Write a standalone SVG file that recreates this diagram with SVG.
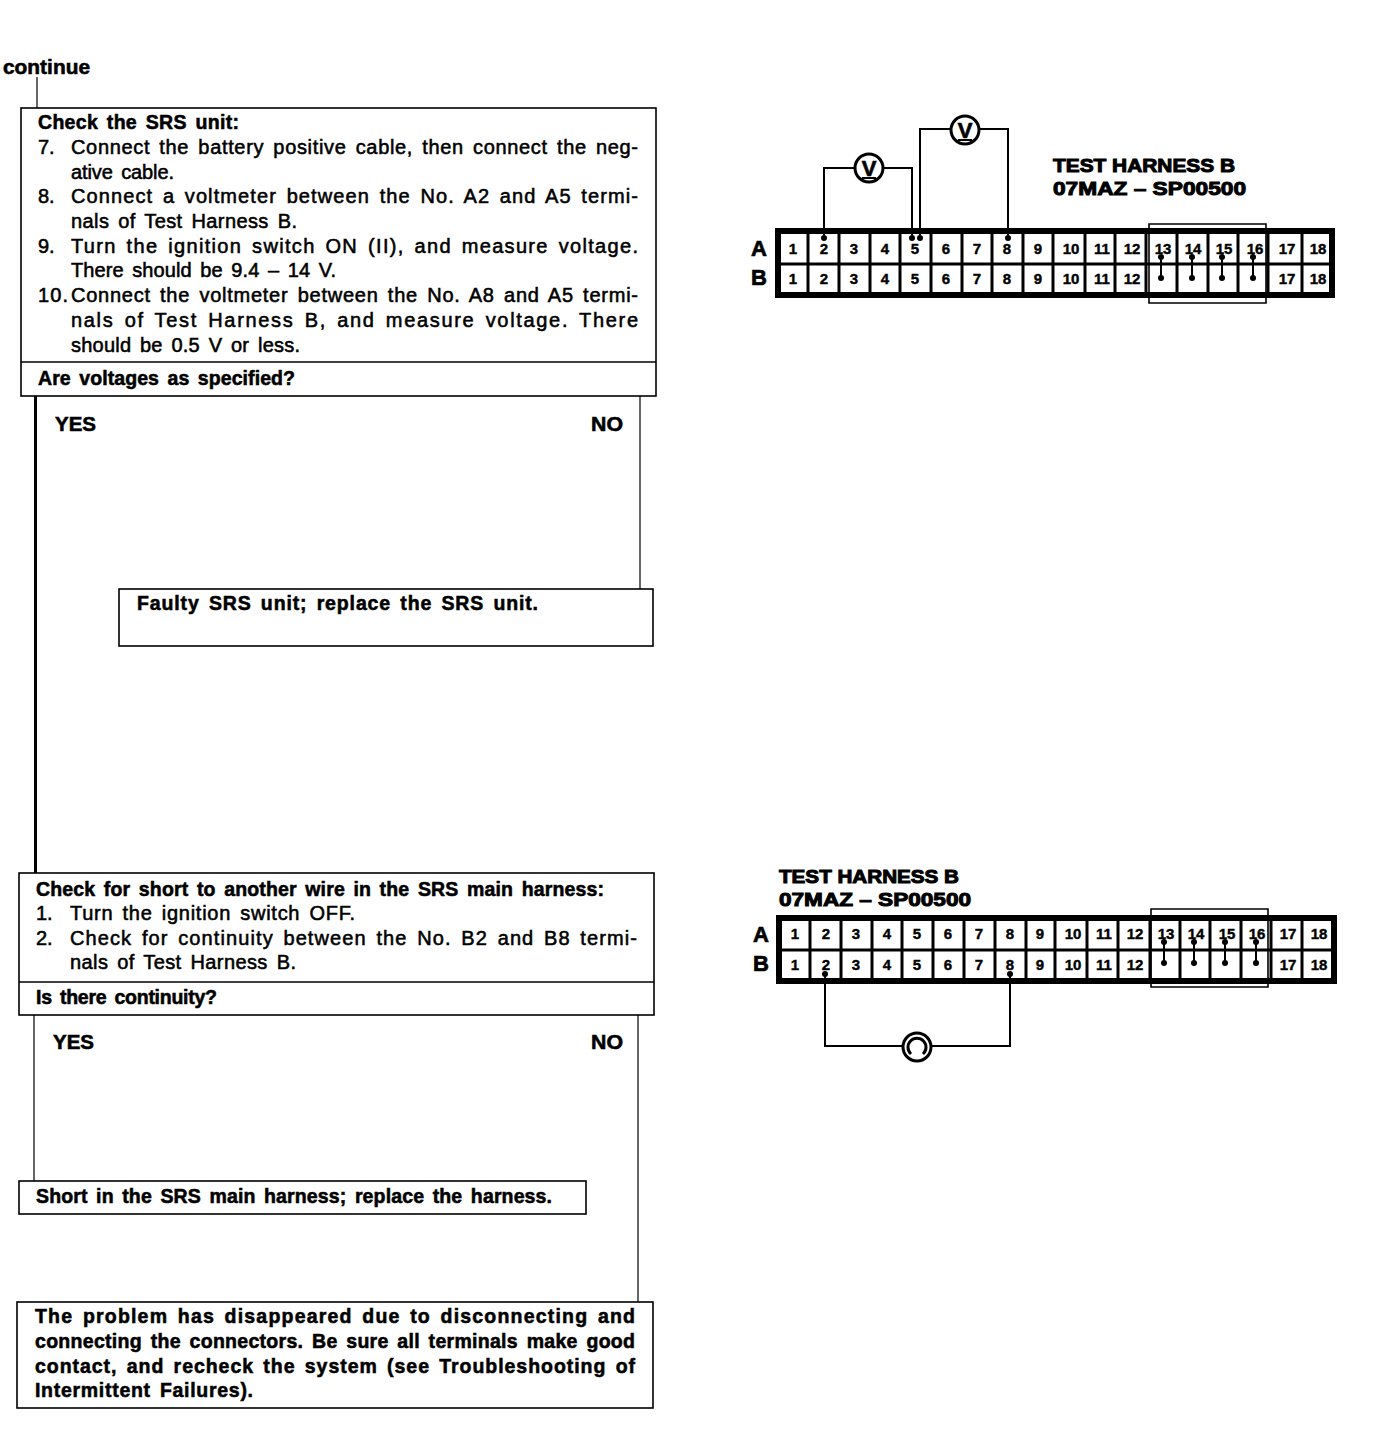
<svg xmlns="http://www.w3.org/2000/svg" width="1392" height="1436" viewBox="0 0 1392 1436">
<style>
text{font-family:"Liberation Sans",Arial,sans-serif;fill:#000}
.b{font-size:20px;stroke:#000;stroke-width:.55;word-spacing:3px}
.h{font-size:19.5px;font-weight:bold;stroke:#000;stroke-width:.55;word-spacing:3px}
.t{font-size:19px;font-weight:bold;stroke:#000;stroke-width:1}
.n{font-size:15px;font-weight:bold;text-anchor:middle;stroke:#000;stroke-width:.4}
.r{font-size:22px;font-weight:bold;text-anchor:middle;stroke:#000;stroke-width:.7}
.box{fill:none;stroke:#000;stroke-width:1.6}
.w{fill:none;stroke:#000;stroke-width:2}
.w3{fill:none;stroke:#000;stroke-width:3}
.w1{fill:none;stroke:#000;stroke-width:1.2}
.o{fill:none;stroke:#000;stroke-width:6}
.d{fill:none;stroke:#000;stroke-width:3}
.m{fill:#fff;stroke:#000;stroke-width:3}
.dot{fill:#000}
</style>

<g id="connectors">
<path class="w1" d="M37 77V108"/>
<path class="w3" d="M35.500 396V873"/>
<path class="w1" d="M640 396V589"/>
<path class="w1" d="M34 1015V1181"/>
<path class="w1" d="M638 1015V1302"/>
</g>

<g id="continue"><text class="h" x="3" y="74" textLength="87" lengthAdjust="spacingAndGlyphs">continue</text></g>

<g id="check-srs-unit">
<rect class="box" x="21" y="108" width="635" height="288"/>
<path class="box" d="M21 362H656"/>
<text class="h" x="38" y="129" textLength="201">Check the SRS unit:</text>
<text class="b" x="38" y="154">7.</text><text class="b" x="71" y="154" textLength="567">Connect the battery positive cable, then connect the neg-</text>
<text class="b" x="71" y="179" textLength="103">ative cable.</text>
<text class="b" x="38" y="203">8.</text><text class="b" x="71" y="203" textLength="567">Connect a voltmeter between the No. A2 and A5 termi-</text>
<text class="b" x="71" y="228" textLength="226">nals of Test Harness B.</text>
<text class="b" x="38" y="253">9.</text><text class="b" x="71" y="253" textLength="567">Turn the ignition switch ON (II), and measure voltage.</text>
<text class="b" x="71" y="277" textLength="265">There should be 9.4 – 14 V.</text>
<text class="b" x="38" y="302" textLength="30">10.</text><text class="b" x="71" y="302" textLength="567">Connect the voltmeter between the No. A8 and A5 termi-</text>
<text class="b" x="71" y="327" textLength="567">nals of Test Harness B, and measure voltage. There</text>
<text class="b" x="71" y="352" textLength="229">should be 0.5 V or less.</text>
<text class="h" x="38" y="385" textLength="257">Are voltages as specified?</text>
</g>

<g id="yes-no-1">
<text class="h" x="55" y="431" textLength="41" lengthAdjust="spacingAndGlyphs">YES</text>
<text class="h" x="591" y="431" textLength="32" lengthAdjust="spacingAndGlyphs">NO</text>
</g>

<g id="faulty-srs">
<rect class="box" x="119" y="589" width="534" height="57"/>
<text class="h" x="137" y="610" textLength="401">Faulty SRS unit; replace the SRS unit.</text>
</g>

<g id="check-short">
<rect class="box" x="19" y="873" width="635" height="142"/>
<path class="box" d="M19 982H654"/>
<text class="h" x="36" y="896" textLength="568">Check for short to another wire in the SRS main harness:</text>
<text class="b" x="36" y="920">1.</text><text class="b" x="70" y="920" textLength="285">Turn the ignition switch OFF.</text>
<text class="b" x="36" y="945">2.</text><text class="b" x="70" y="945" textLength="567">Check for continuity between the No. B2 and B8 termi-</text>
<text class="b" x="70" y="969" textLength="226">nals of Test Harness B.</text>
<text class="h" x="36" y="1004" textLength="181">Is there continuity?</text>
</g>

<g id="yes-no-2">
<text class="h" x="53" y="1049" textLength="41" lengthAdjust="spacingAndGlyphs">YES</text>
<text class="h" x="591" y="1049" textLength="32" lengthAdjust="spacingAndGlyphs">NO</text>
</g>

<g id="short-harness">
<rect class="box" x="19" y="1181" width="567" height="33"/>
<text class="h" x="36" y="1203" textLength="516">Short in the SRS main harness; replace the harness.</text>
</g>

<g id="disappeared">
<rect class="box" x="17" y="1302" width="636" height="106"/>
<text class="h" x="35" y="1323" textLength="600">The problem has disappeared due to disconnecting and</text>
<text class="h" x="35" y="1348" textLength="600">connecting the connectors. Be sure all terminals make good</text>
<text class="h" x="35" y="1373" textLength="600">contact, and recheck the system (see Troubleshooting of</text>
<text class="h" x="35" y="1397" textLength="218">Intermittent Failures).</text>
</g>

<g id="harness-top">
<text class="t" x="1053" y="172" textLength="182" lengthAdjust="spacingAndGlyphs">TEST HARNESS B</text>
<text class="t" x="1053" y="195" textLength="193" lengthAdjust="spacingAndGlyphs">07MAZ – SP00500</text>
<text class="r" x="759" y="256">A</text><text class="r" x="759" y="285">B</text>
<rect class="o" x="778" y="231" width="554" height="64"/>
<path class="d" d="M777 264H1332M808 231V296M839 231V296M870 231V296M900 231V296M931 231V296M962 231V296M992 231V296M1023 231V296M1053 231V296M1085 231V296M1115 231V296M1146 231V296M1177 231V296M1208 231V296M1238 231V296M1268 231V296M1302 231V296"/>
<path class="box" d="M1149 224H1266V303H1149Z"/>
<text class="n" x="793" y="254">1</text><text class="n" x="824" y="254">2</text><text class="n" x="854" y="254">3</text><text class="n" x="885" y="254">4</text><text class="n" x="915" y="254">5</text><text class="n" x="946" y="254">6</text><text class="n" x="977" y="254">7</text><text class="n" x="1007" y="254">8</text><text class="n" x="1038" y="254">9</text><text class="n" x="1071" y="254">10</text><text class="n" x="1102" y="254">11</text><text class="n" x="1132" y="254">12</text><text class="n" x="1163" y="254">13</text><text class="n" x="1193" y="254">14</text><text class="n" x="1224" y="254">15</text><text class="n" x="1255" y="254">16</text><text class="n" x="1287" y="254">17</text><text class="n" x="1318" y="254">18</text>
<text class="n" x="793" y="284">1</text><text class="n" x="824" y="284">2</text><text class="n" x="854" y="284">3</text><text class="n" x="885" y="284">4</text><text class="n" x="915" y="284">5</text><text class="n" x="946" y="284">6</text><text class="n" x="977" y="284">7</text><text class="n" x="1007" y="284">8</text><text class="n" x="1038" y="284">9</text><text class="n" x="1071" y="284">10</text><text class="n" x="1102" y="284">11</text><text class="n" x="1132" y="284">12</text><text class="n" x="1287" y="284">17</text><text class="n" x="1318" y="284">18</text>
<path class="w" d="M1161 256V279M1192 256V279M1222 256V279M1253 256V279"/>
<circle class="dot" cx="1161" cy="257" r="3"/><circle class="dot" cx="1192" cy="257" r="3"/><circle class="dot" cx="1222" cy="257" r="3"/><circle class="dot" cx="1253" cy="257" r="3"/>
<circle class="dot" cx="1161" cy="278" r="3"/><circle class="dot" cx="1192" cy="278" r="3"/><circle class="dot" cx="1222" cy="278" r="3"/><circle class="dot" cx="1253" cy="278" r="3"/>
<path class="w" d="M824 238V168H912V238M920 238V129H1008V238"/>
<circle class="dot" cx="824" cy="238" r="3"/><circle class="dot" cx="912" cy="238" r="3"/><circle class="dot" cx="920" cy="238" r="3"/><circle class="dot" cx="1008" cy="238" r="3"/>
<circle class="m" cx="869" cy="168" r="14"/><text class="r" x="869" y="176">V</text><path class="w" d="M862 178H876"/>
<circle class="m" cx="965" cy="130" r="14"/><text class="r" x="965" y="138">V</text><path class="w" d="M958 140H972"/>
</g>

<g id="harness-bottom">
<text class="t" x="779" y="883" textLength="180" lengthAdjust="spacingAndGlyphs">TEST HARNESS B</text>
<text class="t" x="779" y="906" textLength="192" lengthAdjust="spacingAndGlyphs">07MAZ – SP00500</text>
<text class="r" x="761" y="942">A</text><text class="r" x="761" y="971">B</text>
<rect class="o" x="779" y="918" width="555" height="63"/>
<path class="d" d="M778 950H1334M810 918V981M841 918V981M872 918V981M902 918V981M933 918V981M964 918V981M995 918V981M1026 918V981M1055 918V981M1087 918V981M1118 918V981M1150 918V981M1180 918V981M1210 918V981M1241 918V981M1271 918V981M1302 918V981"/>
<path class="box" d="M1151 909H1268V987H1151Z"/>
<text class="n" x="795" y="939">1</text><text class="n" x="826" y="939">2</text><text class="n" x="856" y="939">3</text><text class="n" x="887" y="939">4</text><text class="n" x="917" y="939">5</text><text class="n" x="948" y="939">6</text><text class="n" x="979" y="939">7</text><text class="n" x="1010" y="939">8</text><text class="n" x="1040" y="939">9</text><text class="n" x="1073" y="939">10</text><text class="n" x="1104" y="939">11</text><text class="n" x="1135" y="939">12</text><text class="n" x="1166" y="939">13</text><text class="n" x="1196" y="939">14</text><text class="n" x="1227" y="939">15</text><text class="n" x="1257" y="939">16</text><text class="n" x="1288" y="939">17</text><text class="n" x="1319" y="939">18</text>
<text class="n" x="795" y="970">1</text><text class="n" x="826" y="970">2</text><text class="n" x="856" y="970">3</text><text class="n" x="887" y="970">4</text><text class="n" x="917" y="970">5</text><text class="n" x="948" y="970">6</text><text class="n" x="979" y="970">7</text><text class="n" x="1010" y="970">8</text><text class="n" x="1040" y="970">9</text><text class="n" x="1073" y="970">10</text><text class="n" x="1104" y="970">11</text><text class="n" x="1135" y="970">12</text><text class="n" x="1288" y="970">17</text><text class="n" x="1319" y="970">18</text>
<path class="w" d="M1164 942V964M1194 942V964M1225 942V964M1256 942V964"/>
<circle class="dot" cx="1164" cy="942" r="3"/><circle class="dot" cx="1194" cy="942" r="3"/><circle class="dot" cx="1225" cy="942" r="3"/><circle class="dot" cx="1256" cy="942" r="3"/>
<circle class="dot" cx="1164" cy="963" r="3"/><circle class="dot" cx="1194" cy="963" r="3"/><circle class="dot" cx="1225" cy="963" r="3"/><circle class="dot" cx="1256" cy="963" r="3"/>
<path class="w" d="M825 974V1046H1010V974"/>
<circle class="dot" cx="825" cy="974" r="3"/><circle class="dot" cx="1010" cy="974" r="3"/>
<circle class="m" cx="917" cy="1047" r="14"/>
<path d="M911 1054A9 9 0 1 1 923 1054" fill="none" stroke="#000" stroke-width="3"/>
</g>
</svg>
